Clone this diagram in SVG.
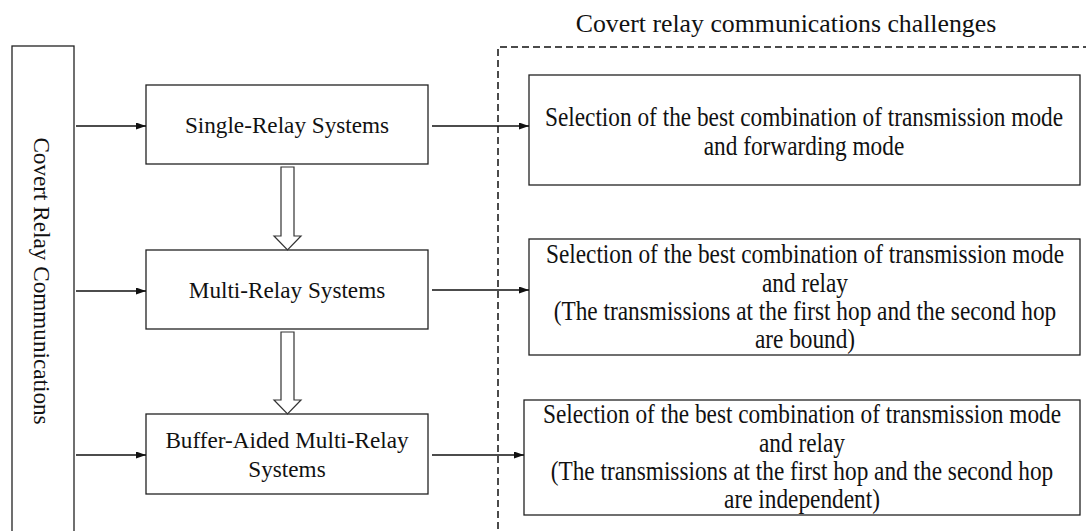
<svg xmlns="http://www.w3.org/2000/svg" width="1086" height="531" viewBox="0 0 1086 531">
  <style>
    .box { fill: #fff; stroke: #222; stroke-width: 1.3; }
    .hollow { fill: #fff; stroke: #333; stroke-width: 1.2; }
    .lbl { font-family: "Liberation Serif", "Times New Roman", serif; fill: #111; text-anchor: middle; }
    .sys { font-size: 23.2px; }
    .chal { font-size: 23.3px; }
    .title { font-size: 25.8px; }
    .link { stroke: #111; stroke-width: 1.3; fill: none; marker-end: url(#head); }
    .frame { fill: none; stroke: #111; stroke-width: 1.5; stroke-dasharray: 7 4; }
  </style>
  <defs>
    <marker id="head" markerUnits="userSpaceOnUse" markerWidth="11" markerHeight="8" refX="10" refY="3.5" orient="auto">
      <path d="M0,0 L10,3.5 L0,7 z" fill="#111"/>
    </marker>
  </defs>

  <rect width="1086" height="531" fill="#fff"/>

  <!-- dashed frame around the challenges -->
  <g id="challenges-frame">
    <path class="frame" d="M498,540 V47 H1092"/>
    <text class="lbl title" x="786" y="32">Covert relay communications challenges</text>
  </g>

  <!-- vertical root box -->
  <g id="covert-relay">
    <rect class="box" x="12" y="46" width="62" height="500"/>
    <text class="lbl sys" font-size="22.5" transform="translate(34 281) rotate(90)">Covert Relay Communications</text>
  </g>

  <!-- system types -->
  <g id="single-relay">
    <rect class="box" x="146" y="85" width="282" height="79"/>
    <text class="lbl sys" x="287" y="133">Single-Relay Systems</text>
  </g>
  <g id="multi-relay">
    <rect class="box" x="146" y="250" width="282" height="79"/>
    <text class="lbl sys" x="287" y="298">Multi-Relay Systems</text>
  </g>
  <g id="buffer-aided">
    <rect class="box" x="146" y="414" width="282" height="80"/>
    <text class="lbl sys" x="287" y="448">Buffer-Aided Multi-Relay</text>
    <text class="lbl sys" x="287" y="477">Systems</text>
  </g>

  <!-- challenges: lines are set slightly taller than wide (scale 1 x 1.17) -->
  <g id="challenge-single">
    <rect class="box" x="529" y="75" width="551" height="110"/>
    <text class="lbl chal" transform="translate(804 125.5) scale(1 1.17)">Selection of the best combination of transmission mode</text>
    <text class="lbl chal" transform="translate(804 155) scale(1 1.17)">and forwarding mode</text>
  </g>
  <g id="challenge-multi">
    <rect class="box" x="529" y="239" width="551" height="116"/>
    <text class="lbl chal" transform="translate(805 263) scale(1 1.17)">Selection of the best combination of transmission mode</text>
    <text class="lbl chal" transform="translate(805 292) scale(1 1.17)">and relay</text>
    <text class="lbl chal" transform="translate(805 320) scale(1 1.17)">(The transmissions at the first hop and the second hop</text>
    <text class="lbl chal" transform="translate(805 348) scale(1 1.17)">are bound)</text>
  </g>
  <g id="challenge-buffer">
    <rect class="box" x="524" y="400" width="556" height="115"/>
    <text class="lbl chal" transform="translate(802 423) scale(1 1.17)">Selection of the best combination of transmission mode</text>
    <text class="lbl chal" transform="translate(802 452) scale(1 1.17)">and relay</text>
    <text class="lbl chal" transform="translate(802 480) scale(1 1.17)">(The transmissions at the first hop and the second hop</text>
    <text class="lbl chal" transform="translate(802 508) scale(1 1.17)">are independent)</text>
  </g>

  <!-- connectors -->
  <g id="connectors">
    <line class="link" x1="76" y1="126" x2="146" y2="126"/>
    <line class="link" x1="76" y1="291" x2="146" y2="291"/>
    <line class="link" x1="76" y1="455" x2="146" y2="455"/>
    <line class="link" x1="432" y1="126" x2="529" y2="126"/>
    <line class="link" x1="432" y1="290" x2="529" y2="290"/>
    <line class="link" x1="432" y1="455" x2="524" y2="455"/>
    <polygon class="hollow" points="281,167 294,167 294,236 301,236 287.5,250 274,236 281,236"/>
    <polygon class="hollow" points="281,332 294,332 294,400 301,400 287.5,414 274,400 281,400"/>
  </g>
</svg>
